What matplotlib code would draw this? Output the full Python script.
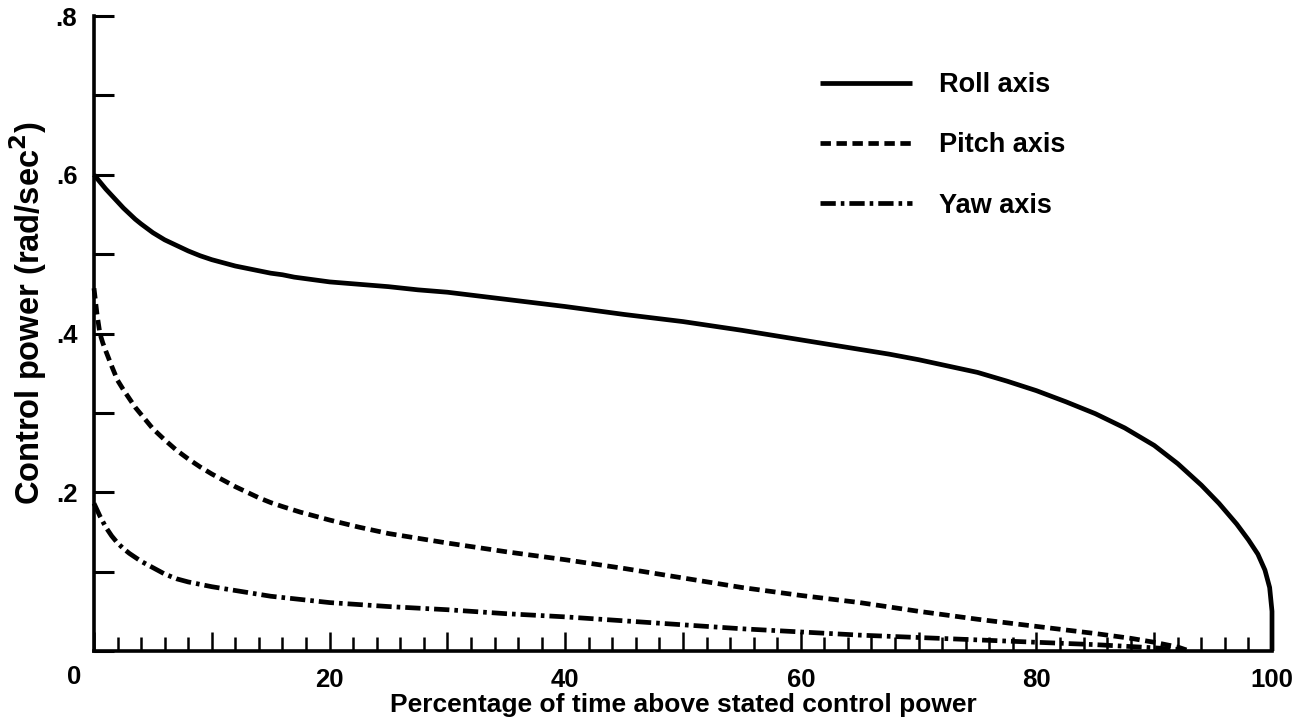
import matplotlib
matplotlib.use("Agg")
import matplotlib.pyplot as plt
from matplotlib.ticker import MultipleLocator
import matplotlib.transforms as mtransforms

plt.rcParams['font.family'] = ['Liberation Sans', 'DejaVu Sans']
plt.rcParams['font.weight'] = 'bold'
plt.rcParams['mathtext.default'] = 'bf'
plt.rcParams['lines.scale_dashes'] = False

# ---- data ----
roll_x = [0, 0.5, 1, 1.5, 2, 2.5, 3, 3.5, 4, 5, 6, 7, 8, 9, 10, 11, 12, 13, 14,
          15, 16, 17, 18, 19, 20, 22.5, 25, 27.5, 30, 35, 40, 45, 50, 55, 60,
          62.5, 65, 67.5, 70, 72.5, 75, 77.5, 80, 82.5, 85, 87.5, 90, 92, 94,
          95.5, 97, 98, 98.8, 99.4, 99.8, 100, 100]
roll_y = [0.600, 0.591, 0.582, 0.574, 0.566, 0.558, 0.551, 0.544, 0.538, 0.527,
          0.518, 0.511, 0.504, 0.498, 0.493, 0.489, 0.485, 0.482, 0.479, 0.476,
          0.474, 0.471, 0.469, 0.467, 0.465, 0.462, 0.459, 0.455, 0.452, 0.443,
          0.434, 0.424, 0.415, 0.404, 0.392, 0.386, 0.380, 0.374, 0.367, 0.359,
          0.351, 0.340, 0.328, 0.314, 0.299, 0.281, 0.259, 0.236, 0.209, 0.186,
          0.160, 0.140, 0.122, 0.102, 0.080, 0.050, 0.0]

pitch_x = [0, 0.25, 0.5, 0.75, 1, 1.5, 2, 2.5, 3, 3.5, 4, 4.5, 5, 6, 7, 8, 9, 10,
           11, 12, 13, 14, 15, 16, 17.5, 19, 20, 22.5, 25, 27.5, 30, 35, 40, 45,
           50, 55, 60, 65, 70, 75, 80, 85, 88, 90, 92, 93]
pitch_y = [0.457, 0.425, 0.400, 0.388, 0.378, 0.359, 0.341, 0.329, 0.318, 0.307,
           0.298, 0.289, 0.280, 0.266, 0.253, 0.242, 0.232, 0.223, 0.215, 0.207,
           0.200, 0.193, 0.187, 0.182, 0.175, 0.169, 0.165, 0.156, 0.148, 0.142,
           0.136, 0.125, 0.115, 0.104, 0.092, 0.080, 0.070, 0.061, 0.050, 0.040,
           0.031, 0.022, 0.016, 0.011, 0.005, 0.0]

yaw_x = [0, 0.5, 1, 1.5, 2, 2.5, 3, 4, 5, 6, 7, 8, 9, 10, 12.5, 15, 17.5, 20, 25,
         30, 35, 40, 45, 50, 55, 60, 65, 70, 75, 80, 85, 90, 92]
yaw_y = [0.186, 0.170, 0.156, 0.145, 0.136, 0.129, 0.123, 0.113, 0.105, 0.097,
         0.091, 0.087, 0.084, 0.081, 0.075, 0.069, 0.065, 0.061, 0.056, 0.052,
         0.047, 0.043, 0.038, 0.033, 0.028, 0.024, 0.020, 0.017, 0.014, 0.011,
         0.008, 0.004, 0.002]

series_labels = ['Roll axis', 'Pitch axis', 'Yaw axis']
x_ticks = [0, 10, 20, 30, 40, 50, 60, 70, 80, 90, 100]
x_tick_labels = ['', '', '20', '', '40', '', '60', '', '80', '', '100']
y_ticks = [0.2, 0.4, 0.6, 0.8]
y_tick_labels = ['.2', '.4', '.6', '.8']
x_label = 'Percentage of time above stated control power'
y_label = 'Control power (rad/sec$^{2}$)'

# ---- figure ----
W, H = 1309, 726
fig = plt.figure(figsize=(W / 100, H / 100), dpi=100)
ax = fig.add_axes([94 / W, (H - 651) / H, (1272 - 94) / W, (651 - 16) / H])

lw = 3.4
ax.plot(roll_x, roll_y, color='black', lw=lw, solid_capstyle='butt',
        solid_joinstyle='round', clip_on=False, label=series_labels[0])
ax.plot(pitch_x, pitch_y, color='black', lw=lw, linestyle=(0, (7.5, 4)),
        clip_on=False, label=series_labels[1])
ax.plot(yaw_x, yaw_y, color='black', lw=lw, linestyle=(0, (11, 3.6, 2.6, 3.6)),
        clip_on=False, label=series_labels[2])

ax.set_xlim(0, 100)
ax.set_ylim(0, 0.8)

for s in ['top', 'right']:
    ax.spines[s].set_visible(False)
for s in ['left', 'bottom']:
    ax.spines[s].set_linewidth(2.6)

ax.set_xticks(x_ticks)
ax.set_xticklabels(x_tick_labels)
ax.xaxis.set_minor_locator(MultipleLocator(2))
ax.set_yticks(y_ticks)
ax.set_yticklabels(y_tick_labels)
ax.yaxis.set_minor_locator(MultipleLocator(0.1))

ax.tick_params(axis='x', which='major', direction='in', length=14, width=1.8,
               labelsize=18.5, pad=12)
ax.tick_params(axis='x', which='minor', direction='in', length=10, width=1.8)
ax.tick_params(axis='y', which='both', direction='in', length=14.5, width=2.2,
               labelsize=18.5, pad=12)

# "0" label placed at the origin corner
off = mtransforms.offset_copy(ax.transData, fig=fig, x=-20, y=-26, units='dots')
ax.text(0, 0, '0', transform=off, ha='center', va='center', fontsize=18.5,
        fontweight='bold')

ax.set_xlabel(x_label, fontsize=19, fontweight='bold', labelpad=1)
ax.set_ylabel(y_label, fontsize=23.5, fontweight='bold')
ax.yaxis.set_label_coords((49 - 94) / 1178, (651 - 313) / 635)

leg = ax.legend(loc='upper left', bbox_to_anchor=(820 / W, (H - 72) / H),
                bbox_transform=fig.transFigure, frameon=False, fontsize=19.5,
                handlelength=3.4, handletextpad=1.0, labelspacing=1.27,
                borderpad=0, borderaxespad=0)

fig.savefig('out.png', dpi=100)
